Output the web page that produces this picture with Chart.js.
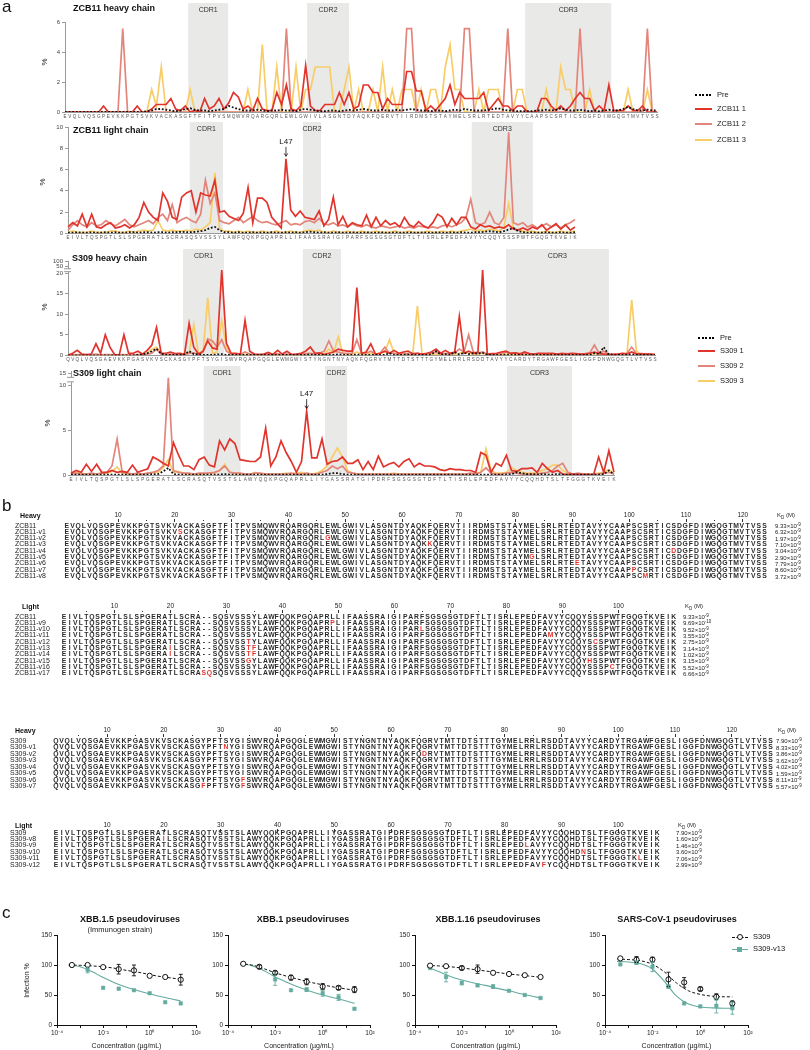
<!DOCTYPE html>
<html>
<head>
<meta charset="utf-8">
<script src="https://cdn.jsdelivr.net/npm/chart.js@4.4.1/dist/chart.umd.min.js"></script>
<style>
  body { margin: 0; background: #fff; }
  #page { position: relative; width: 810px; height: 1050px; overflow: hidden; font-family: "Liberation Sans", Arial, sans-serif; color: #111; will-change: transform; }
  #page canvas { position: absolute; }
  .t { position: absolute; white-space: nowrap; }
  .seq span { display: inline-block; text-align: center; }
  .sw { display: inline-block; vertical-align: middle; margin-right: 5px; }
</style>
</head>
<body>
<div id="page"></div>
<script>
// ---------- panel a : sequences on the x axis ----------
const zcbHeavySeq = "EVQLVQSGPEVKKPGTSVKVACKASGFTFITPVSMQWVRQARGQRLEWLGWIVLASGNTDYAQKFQERVTIIRDMSTSTAYMELSRLRTEDTAVYYCAAPSCSRTICSDGFDIWGQGTMVTVSS";
const zcbLightSeq = "EIVLTQSPGTLSLSPGERATLSCRASQSVSSSYLAWFQQKPGQAPRLLIFAASSRAIGIPARFSGSGSGTDFTLTISRLEPEDFAVYYCQQYSSSPWTFGQGTKVEIK";
const s309HeavySeq = "QVQLVQSGAEVKKPGASVKVSCKASGYPFTSYGISWVRQAPGQGLEWMGWISTYNGNTNYAQKFQGRVTMTTDTSTTTGYMELRRLRSDDTAVYYCARDYTRGAWFGESLIGGFDNWGQGTLVTVSS";
const s309LightSeq = "EIVLTQSPGTLSLSPGERATLSCRASQTVSSTSLAWYQQKPGQAPRLLIYGASSRATGIPDRFSGSGSGTDFTLTISRLEPEDFAVYYCQQHDTSLTFGGGTKVEIK";

// % of reads, one value per residue
const zcbHeavyPre = [0,0,0,0,0,0,0,0,0,0, 0,0,0,0,0,0,0,0.05,0.1,0.2, 0.2,0.15,0.1,0.05,0.1,0.2,0.25,0.15,0.1,0.1,
  0.05,0.1,0.15,0.2,0.4,0.3,0.2,0.1,0.1,0.1, 0.15,0.1,0.05,0.1,0.1,0.15,0.1,0.1,0.05,0.15, 0.2,0.15,0.1,0.05,0.05,0.1,0.1,0.05,0.1,0.15,
  0.1,0.15,0.2,0.15,0.1,0.1,0.15,0.1,0.1,0.15, 0.1,0.15,0.2,0.15,0.1,0.1,0.05,0.1,0.1,0.05, 0.1,0.15,0.1,0.2,0.15,0.1,0.1,0.1,0.15,0.2,
  0.25,0.15,0.1,0.1,0.05,0.05,0.05,0.05,0.1,0.1, 0.15,0.1,0.15,0.25,0.15,0.1,0.1,0.15,0.1,0.05, 0.1,0.05,0.1,0.15,0.1,0.1,0.2,0.35,0.2,0.1,
  0.1,0.15,0.1,0.1];
const zcbHeavy1 = [0,0,0,0,0,0,0,0,0.4,0, 0,0,0,0,0,0.4,0,0,0.2,0.5, 0.5,0.5,0.9,0.2,0.1,0.4,0,0.1,0,0.9,
  0.2,0.4,0.9,0.2,0.6,1.3,1.0,0.2,0.4,0.1, 0.9,0.2,0.1,0.1,1.3,0.5,1.8,0.2,0.1,0.4, 3.1,0.4,0.1,0.1,0.5,0.5,0.5,1.3,0.5,1.3,
  0.2,0.4,1.8,1.8,1.3,1.3,0.2,0.9,0.5,0.5, 0.5,2.7,2.7,1.4,1.4,0.1,0.4,0.1,0.5,0.9, 1.8,0.5,1.3,0.9,0.9,0.9,0.9,1.3,0.1,0.5,
  0.9,0.4,0.4,0.1,0.4,0.4,0,0,0,0.9, 0.9,0.4,0.1,0.4,0.1,0.4,0.9,1.3,0.9,0.9, 0.1,0.4,0.1,1.8,0.1,0.1,0.1,0.4,0.1,0.1,
  0.4,0,0,0];
const zcbHeavy2 = [0,0,0,0,0,0,0,0,0,0, 0,0,5.56,0,0,0,0,0,0,0, 0,0,0,0,0,0,0,0,0,0,
  0,0,0,0,0,0,0,0,0,0, 0,0,0,0,0,0,5.56,0,0,0, 0,0,0,0,0,0,0,0,0,0,
  0,0,0,0,0,0,0,0,0,0, 0,5.56,5.56,0,0,0,0,0,0,0, 0,0,0,5.56,5.56,0,0,0,0,0,
  0,0,5.56,0,0,0,0,0,0,0, 0,0,0,0,0,0,0,5.56,0,0, 0,0,0,0,0,0,0,0,0,0,
  0,5.56,0,0];
const zcbHeavy3 = [0,0,0,0,0,0,0,0,0,0, 0,0,0,0,0,0,0,0,1.5,0.4, 3,0,0,0,0,0,1.5,0,0,0,
  0,0,0,0,0,0,0,0,1.5,0, 0,4.5,0,0,3,0,0,0,3,0, 1.5,1.5,3,3,3,3,0,0,1.5,3,
  0,1.5,0,0,1.5,0,3,0,1.5,0, 1.5,1.5,1.5,0,1.5,0,1.5,1.5,0,3, 4.5,1.5,1.5,0,0,0,1.5,0,1.5,1.5,
  1.5,0,0,0,1.5,1.5,0,0,0,0, 1.5,0,0,3,1.5,1.5,0,0,0,1.5, 0,0,0,0,0,0,0,1.5,0,0,
  0,1.5,0,0];

const zcbLightPre = [0.05,0.05,0.1,0.05,0.05,0.1,0.05,0.05,0.1,0.05, 0.1,0.05,0.05,0.1,0.1,0.05,0.1,0.1,0.05,0.1,
  0.1,0.05,0.1,0.1,0.15,0.1,0.1,0.15,0.2,0.3, 0.5,0.6,0.3,0.1,0.1,0.05,0.1,0.05,0.05,0.1,
  0.05,0.1,0.05,0.1,0.05,0.05,0.1,0.05,0.1,0.05, 0.1,0.15,0.1,0.05,0.1,0.05,0.05,0.1,0.05,0.05,
  0.1,0.05,0.05,0.1,0.05,0.05,0.1,0.05,0.05,0.1, 0.05,0.05,0.1,0.05,0.05,0.1,0.05,0.05,0.1,0.05,
  0.05,0.1,0.05,0.1,0.05,0.05,0.1,0.1,0.15,0.2, 0.15,0.1,0.2,0.35,0.5,0.2,0.1,0.05,0.1,0.05,
  0.05,0.1,0.05,0.05,0.1,0.05,0.05,0.1];
const zcbLight1 = [0.6,1.0,0.7,1.8,0.6,1.8,0.6,0.5,0.8,1.0, 0.5,0.6,0.8,0.5,0.8,1.5,2.9,2.0,1.5,1.2,
  3.8,3.0,1.5,1.3,3.4,3.8,4.0,2.0,3.8,3.6, 3.5,5.0,2.0,2.1,1.6,1.4,1.2,1.9,4.3,1.0,
  3.3,3.3,2.9,1.5,1.0,0.5,7.0,2.2,1.6,2.1, 1.5,1.4,1.3,2.1,0.7,1.3,3.4,0.8,1.6,0.6,
  1.0,0.8,0.7,1.7,0.6,1.5,0.7,1.2,0.8,1.0, 0.6,1.5,0.8,0.6,1.1,0.7,0.5,1.0,1.8,1.5,
  0.6,1.4,0.8,1.5,1.5,0.6,0.4,0.8,0.6,0.7, 0.5,0.6,0.5,0.8,0.4,0.3,0.5,0.3,0.6,0.4,
  0.8,0.3,0.6,0.9,0.4,0.8,0.3,0.6];
const zcbLight2 = [0.3,0.8,1.2,0.8,0.6,1.0,0.7,0.8,1.2,0.9, 0.7,1.0,1.3,0.8,0.6,0.8,1.0,1.2,0.9,1.5,
  1.8,1.2,2.7,1.0,1.3,1.5,1.2,1.0,1.8,5.0, 2.8,3.8,1.2,1.0,0.9,1.2,1.5,1.0,1.3,1.6,
  1.2,1.0,1.1,0.9,0.8,1.0,1.2,0.8,0.9,0.8, 1.1,1.2,1.0,1.4,0.9,0.8,1.0,0.7,0.8,0.6,
  0.9,0.7,0.6,0.8,0.6,0.5,0.7,0.6,0.5,0.6, 0.7,0.5,0.6,0.5,0.7,0.6,0.5,0.6,0.5,0.7,
  0.8,0.6,0.8,1.0,1.5,3.2,1.0,0.8,1.0,2.0, 1.0,0.8,1.5,9.5,1.0,0.8,1.0,0.6,0.8,0.5,
  0.7,0.9,0.6,0.8,0.5,0.8,1.0,1.3];
const zcbLight3 = [0.1,0.2,0.1,0.1,0.1,0.2,0.1,0.1,0.1,0.2, 0.2,0.1,0.1,0.2,0.1,0.2,0.3,0.2,0.3,1.2,
  0.3,0.2,0.3,0.2,0.2,0.3,0.2,0.4,0.3,0.6, 1.0,5.7,0.4,0.2,0.2,0.1,0.2,0.1,0.2,0.1,
  0.1,0.2,0.1,0.1,0.2,0.1,0.1,0.2,0.1,0.1, 0.2,0.3,0.2,0.3,0.1,0.1,0.2,0.1,0.1,0.2,
  0.1,0.1,0.2,0.1,0.1,0.2,0.1,0.1,0.1,0.2, 0.1,0.1,0.2,0.1,0.1,0.1,0.2,0.1,0.1,0.2,
  0.1,0.2,0.1,0.2,0.3,0.4,0.2,0.3,0.2,0.4, 0.3,0.2,0.6,2.8,0.5,0.3,0.2,0.1,0.2,0.1,
  0.1,0.2,0.1,0.1,0.2,0.1,0.1,0.2];

const s309HeavyPre = [0,0,0,0,0,0,0,0,0,0, 0,0,0,0,0,0.1,0.2,0.5,1.0,1.6, 0.4,0.1,0.1,0.1,0.1,0.2,1.0,0.3,0.2,0.1,
  0.1,0.1,0.2,0.3,0.1,0.1,0.1,0.1,0.1,0.1, 0.1,0.1,0.1,0.1,0.1,0.1,0.1,0.1,0.1,0.1, 0.1,0.1,0.2,0.1,0.1,0.1,0.1,0.1,0.2,0.1,
  0.1,0.1,0.2,0.1,0.1,0.1,0.1,0.1,0.1,0.5, 0.1,0.1,0.1,0.2,0.1,0.1,0.1,0.1,0.2,1.0, 0.2,0.3,0.1,0.8,0.2,0.6,0.3,0.5,0.4,0.6,
  0.1,0.1,0.1,0.1,0.2,0.1,0.1,0.1,0.1,0.1, 0.1,0.1,0.1,0.1,0.1,0.1,0.1,0.1,0.1,0.1, 0.1,0.1,0.1,0.5,0.3,2.0,0.3,0.1,0.1,0.1,
  0.1,0.2,0.1,0.1,0.1,0.1,0.1];
const s309Heavy1 = [0,0.5,1.2,0.3,0.2,0.3,2.8,0.5,5.0,2.0, 0.2,0.1,5.0,0.5,0.5,1.0,0.3,1.2,2.5,6.8, 0.5,0.5,0.8,0.4,0.5,0.2,7.8,2.0,0.3,1.0,
  3.5,1.8,1.5,20.8,3.0,0.5,0.5,0.3,8.5,1.0, 0.3,0.2,0.3,0.7,0.2,1.2,0.3,1.0,0.2,0.3, 0.5,1.0,2.0,0.5,0.6,0.2,0.5,0.8,1.5,1.2,
  1.0,1.0,16.5,0.5,0.8,2.8,0.3,0.5,1.0,0.5, 1.2,0.5,0.8,1.0,0.4,0.5,0.3,0.5,0.8,1.5, 0.5,1.2,0.5,0.8,9.5,0.5,1.0,0.5,0.8,20.8,
  0.3,0.4,0.5,0.8,1.0,0.5,0.6,0.3,0.8,0.4, 0.3,0.5,0.4,0.3,0.5,0.3,0.4,0.3,0.5,0.4, 0.3,0.3,0.5,0.8,0.4,0.3,0.2,0.2,0.3,0.5,
  0.3,0.8,0.3,0.4,0.3,0.3,0.2];
const s309Heavy2 = [0,0.1,0.2,0.1,0.1,0.1,0.3,0.1,0.2,0.2, 0.1,0.1,0.2,0.1,0.1,0.2,0.1,0.3,0.5,1.5, 0.3,0.2,0.3,0.2,0.2,0.1,0.5,0.6,0.2,0.8,
  4.0,3.5,2.0,3.8,1.0,0.3,0.3,0.2,0.8,0.3, 0.2,0.2,0.2,0.3,0.2,0.4,0.2,0.3,0.2,0.2, 0.3,0.4,0.5,0.3,0.5,1.0,3.5,1.0,0.8,0.5,
  0.5,0.5,3.8,0.5,0.5,1.0,0.3,0.5,2.0,0.5, 0.5,0.3,0.5,0.3,0.2,0.5,0.3,0.3,0.5,0.8, 0.3,0.5,0.3,0.5,1.5,0.8,5.0,0.8,0.5,0.8,
  0.3,0.3,0.3,0.5,0.8,0.5,0.6,0.4,0.5,0.4, 0.3,0.4,0.5,0.6,0.4,0.3,0.5,0.4,0.3,0.3, 0.3,0.4,0.6,2.5,0.5,1.0,0.3,0.3,0.3,0.4,
  0.5,2.0,0.4,0.3,0.3,0.3,0.2];
const s309Heavy3 = [0,0,0,0,0,0,0,0,0,0, 0,0,0,0,0,0.2,0.3,0.5,1.5,2.0, 0.3,0.1,0.3,0.2,0.5,0.3,0.5,7.5,0.5,0.8,
  14.0,0.5,0.8,8.5,2.0,0.2,0.1,0.1,0.2,0.1, 0,0,0,0.1,0,0.1,0,0.1,0,0, 0.1,0.2,0.3,0.5,0.3,0.3,1.5,0.5,4.5,0.5,
  0.2,0.3,0.8,0.3,0.2,0.5,0.2,0.5,0.8,3.8, 0.5,0.2,0.3,0.2,0.3,12.0,0.3,0.2,0.2,0.3, 0.2,0.3,0.2,0.3,0.5,0.8,0.5,0.3,0.3,0.5,
  0.2,0.2,0.2,0.2,0.3,0.2,0.1,0.1,0.1,0.1, 0.1,0.1,0.1,0.2,0.1,0.1,0.1,0.1,0.2,0.1, 0.1,0.1,0.2,0.5,0.2,0.3,0.2,0.1,0.1,0.2,
  0.5,13.5,1.0,0.2,0.1,0.1,0.1];

const s309LightPre = [0.05,0.05,0.05,0.05,0.05,0.05,0.05,0.05,0.05,0.05, 0.05,0.05,0.05,0.05,0.05,0.05,0.1,0.1,0.4,0.8,
  0.1,0.05,0.05,0.05,0.05,0.05,0.05,0.05,0.05,0.05, 0.1,0.05,0.05,0.05,0.05,0.05,0.05,0.05,0.05,0.05,
  0.05,0.05,0.05,0.05,0.05,0.05,0.05,0.05,0.05,0.05, 0.1,0.2,0.2,0.1,0.05,0.05,0.05,0.05,0.05,0.05,
  0.05,0.05,0.05,0.05,0.05,0.05,0.05,0.05,0.05,0.05, 0.05,0.05,0.05,0.05,0.05,0.05,0.05,0.05,0.05,0.05,
  0.05,0.05,0.05,0.05,0.05,0.05,0.1,0.3,0.2,0.1, 0.1,0.05,0.1,0.05,0.05,0.1,0.05,0.05,0.05,0.05,
  0.05,0.05,0.05,0.05,0.1,0.5,0.1];
const s309Light1 = [0.2,0.5,0.3,1.2,0.4,1.2,0.3,0.3,0.5,0.3, 0.4,0.3,1.1,0.3,0.5,0.7,2.0,1.7,1.3,1.0,
  3.6,2.2,1.0,1.0,0.6,1.7,2.0,1.1,0.9,3.8, 2.8,4.0,3.5,1.7,1.6,1.5,1.5,2.0,5.2,1.0,
  2.0,3.8,2.5,1.5,0.3,1.5,7.1,1.9,1.9,4.0, 1.2,1.5,1.6,2.0,1.3,1.3,1.7,0.6,1.5,0.6,
  2.1,0.9,1.2,1.4,0.9,1.5,1.8,0.9,1.3,1.0, 1.0,0.9,0.6,0.5,0.7,0.6,0.6,0.5,0.5,0.3,
  2.5,2.2,0.3,1.3,1.0,2.2,0.5,0.4,0.7,0.7, 0.8,0.3,1.3,0.7,0.3,0.5,0.1,0.05,0.1,0.05,
  0.05,0.05,0,2.0,0.3,2.7,0.3];
const s309Light2 = [0.1,0.2,0.1,0.1,0.2,0.1,0.2,0.3,1.0,4.0, 0.3,0.2,0.1,0.2,0.1,0.2,0.3,0.5,1.0,10.8,
  0.5,0.3,0.2,0.2,0.1,0.2,0.2,0.2,0.3,0.5, 1.0,0.3,0.2,0.2,0.1,0.1,0.2,0.2,0.1,0.1,
  0.1,0.1,0.1,0.2,0.1,0.1,0.2,0.1,0.1,0.3, 0.5,1.0,0.7,1.0,0.3,0.2,0.1,0.1,0.1,0.1,
  0.1,0.1,0.1,0.1,0.1,0.1,0.1,0.1,0.1,0.1, 0.1,0.1,0.1,0.1,0.1,0.1,0.1,0.1,0.2,0.1,
  0.3,0.8,0.2,0.1,0.1,0.2,0.3,0.2,0.1,0.1, 0.1,0.1,0.2,0.3,0.5,1.0,1.3,0.3,0.1,0.2,
  0.1,0.1,0.1,0.1,0.2,0.3,0.1];
const s309Light3 = [0.1,0.3,0.2,0.1,0.1,0.1,0.2,0.2,0.4,0.9, 0.2,0.1,0.1,0.1,0.1,0.2,0.3,0.3,0.8,1.7,
  0.3,0.4,0.2,0.1,0.1,0.1,0.1,0.2,0.2,0.5, 1.2,0.3,0.2,0.1,0.1,0.1,0.3,0.1,0.1,0.1,
  0.1,0.1,0.2,0.1,0.2,0.3,0.1,0.1,0.2,0.5, 1.0,2.0,3.0,2.0,0.5,0.2,0.1,0.1,0.1,0.1,
  0.1,0.1,0.1,0.2,0.1,0.1,0.1,0.1,0.1,0.1, 0.1,0.1,0.1,0.1,0.1,0.1,0.1,0.1,0.1,0.2,
  0.3,2.9,0.5,0.2,0.2,0.3,0.8,0.5,0.3,0.2, 0.2,0.3,0.5,0.7,1.1,1.1,0.5,0.2,0.1,0.1,
  0.1,0.1,0.1,0.2,0.3,0.6,0.1];

// CDR extents in residue units
const zcbHeavyCdr = [[26.6, 34.9], [51.3, 60.0], [96.6, 114.5]];
const zcbLightCdr = [[26.7, 33.7], [50.6, 54.4], [86.2, 99.1]];
const s309HeavyCdr = [[25.7, 34.5], [51.4, 59.6], [95.0, 117.1]];
const s309LightCdr = [[26.9, 34.1], [50.6, 54.9], [86.1, 98.8]];

// y ticks (the S309 axes are broken)
const zcbHeavyTicks = [0, 2, 4, 6], zcbHeavyTickLabels = ["0", "2", "4", "6"];
const zcbLightTicks = [0, 2, 4, 6, 8, 10], zcbLightTickLabels = ["0", "2", "4", "6", "8", "10"];
const s309HeavyTicks = [0, 5, 10, 15, 20, 21.7, 22.9], s309HeavyTickLabels = ["0", "5", "10", "15", "20", "50", "100"];
const s309LightTicks = [0, 5, 10, 11.3], s309LightTickLabels = ["0", "5", "10", "15"];

// ---------- panel b : alignments ----------
const zcbHeavyNames = ["ZCB11", "ZCB11-v1", "ZCB11-v2", "ZCB11-v3", "ZCB11-v4", "ZCB11-v5", "ZCB11-v6", "ZCB11-v7", "ZCB11-v8"];
const zcbHeavySeqs = [
  "EVQLVQSGPEVKKPGTSVKVACKASGFTFITPVSMQWVRQARGQRLEWLGWIVLASGNTDYAQKFQERVTIIRDMSTSTAYMELSRLRTEDTAVYYCAAPSCSRTICSDGFDIWGQGTMVTVSS",
  "EVQLVQSGPEVKKPGTSVKVSCKASGFTFITPVSMQWVRQARGQRLEWLGWIVLASGNTDYAQKFQERVTIIRDMSTSTAYMELSRLRTEDTAVYYCAAPSCSRTICSDGFDIWGQGTMVTVSS",
  "EVQLVQSGPEVKKPGTSVKVACKASGFTFITPVSMQWVRQARGQRLGWLGWIVLASGNTDYAQKFQERVTIIRDMSTSTAYMELSRLRTEDTAVYYCAAPSCSRTICSDGFDIWGQGTMVTVSS",
  "EVQLVQSGPEVKKPGTSVKVACKASGFTFITPVSMQWVRQARGQRLEWLGWIVLASGNTDYAQKKQERVTIIRDMSTSTAYMELSRLRTEDTAVYYCAAPSCSRTICSDGFDIWGQGTMVTVSS",
  "EVQLVQSGPEVKKPGTSVKVACKASGFTFITPVSMQWVRQARGQRLEWLGWIVLASGNTDYAQKFQERVTIIRDMSTSTAYMELSRLRTEDTAVYYCAAPSCSRTICDDGFDIWGQGTMVTVSS",
  "EVQLVQSGPEVKKPGTSVKVACKASGFTFITPVSMQWVRQARGQRLEWLGWIVLASGNTDYAQKFQERVTIIRDMSTSTAYMGLSRLRTEDTAVYYCAAPSCSRTICSDGFDIWGQGTMVTVSS",
  "EVQLVQSGPEVKKPGTSVKVACKASGFTFITPVSMQWVRQARGQRLEWLGWIVLASGNTDYAQKFQERVTIIRDMSTSTAYMELSRLRTEETAVYYCAAPSCSRTICSDGFDIWGQGTMVTVSS",
  "EVQLVQSGPEVKKPGTSVKVACKASGFTFITPVSMQWVRQARGQRLEWLGWIVLASGNTDYAQKFQERVTIIRDMSTSTAYMELSRLRTEDTAVYYCAAPPCSRTICSDGFDIWGQGTMVTVSS",
  "EVQLVQSGPEVKKPGTSVKVACKASGFTFITPVSMQWVRQARGQRLEWLGWIVLASGNTDYAQKFQERVTIIRDMSTSTAYMELSRLRTEDTAVYYCAAPSCMRTICSDGFDIWGQGTMVTVSS"];
const zcbHeavyKd = [9.33e-9, 6.32e-9, 1.97e-9, 7.10e-9, 3.04e-9, 2.90e-9, 7.79e-9, 8.60e-9, 3.72e-9];

const zcbLightNames = ["ZCB11", "ZCB11-v9", "ZCB11-v10", "ZCB11-v11", "ZCB11-v12", "ZCB11-v13", "ZCB11-v14", "ZCB11-v15", "ZCB11-v16", "ZCB11-v17"];
const zcbLightSeqs = [
  "EIVLTQSPGTLSLSPGERATLSCRA--SQSVSSSYLAWFQQKPGQAPRLLIFAASSRAIGIPARFSGSGSGTDFTLTISRLEPEDFAVYYCQQYSSSPWTFGQGTKVEIK",
  "EIVLTQSPGTLSLSPGERATLSCRA--SQSVSSSYLAWFQQKPGQAPRPLIFAASSRAIGIPARFSGSGSGTDFTLTISRLEPEDFAVYYCQQYSSSPWTFGQGTKVEIK",
  "EIVLTQSPGTLSLSPGERATLSCRA--SQSVSSSYLAWFQQKPGQAPRLLIFAASSRAIGIPARLSGSGSGTDFTLTISRLEPEDFAVYYCQQYSSSPWTFGQGTKVEIK",
  "EIVLTQSPGTLSLSPGERATLSCRA--SQSVSSSYLAWFQQKPGQAPRLLIFAASSRAIGIPARFSGSGSGTDFTLTISRLEPEDFAMYYCQQYSSSPWTFGQGTKVEIK",
  "EIVLTQSPGTLSLSPGERATLSCRA--SQSVSSTYLAWFQQKPGQAPRLLIFAASSRAIGIPARFSGSGSGTDFTLTISRLEPEDFAVYYCQQYSCSPWTFGQGTKVEIK",
  "EIVLTQSPGTLSLSPGERAILSCRA--SQSVSSTFLAWFQQKPGQAPRLLIFAASSRAIGIPARFSGSGSGTDFTLTISRLEPEDFAVYYCQQYSSSPWTFGQGTKVEIK",
  "EIVLTQSPGTLSLSPGERAILSCRA--SQSVSSTFLAWFQQKPGQAPRLLIFAASSRAIGIPARFSGSGSGTDFTLTISRLEPEDFAVYYCQQYSSSPWTFGQGTKVEIK",
  "EIVLTQSPGTLSLSPGERATLSCRA--SQSVSSGYLAWFQQKPGQAPRLLIFAASSRAIGIPARFSGSGSGTDFTLTISRLEPEDFAVYYCQQYHSSPWTFGQGTKVEIK",
  "EIVLTQSPGTLSLSPGERATLSCRA--SQSVSSSYLAWFQQKPGQAPRLLIFAASSRAIGIPARFSGSGSGTDFTLTISRLEPEDFAVYYCQQYSSSPCTFGQGTKVEIK",
  "EIVLTQSPGTLSLSPGERATLSCRASQSQSVSSSYLAWFQQKPGQAPRLLIFAASSRAIGIPARFSGSGSGTDFTLTISRLEPEDFAVYYCQQYSSSPWTFGQGTKVEIK"];
const zcbLightKd = [9.33e-9, 9.69e-10, 9.52e-9, 3.55e-9, 2.75e-9, 3.14e-9, 1.02e-9, 3.15e-9, 5.52e-9, 6.66e-9];

const s309HeavyNames = ["S309", "S309-v1", "S309-v2", "S309-v3", "S309-v4", "S309-v5", "S309-v6", "S309-v7"];
const s309HeavySeqs = [
  "QVQLVQSGAEVKKPGASVKVSCKASGYPFTSYGISWVRQAPGQGLEWMGWISTYNGNTNYAQKFQGRVTMTTDTSTTTGYMELRRLRSDDTAVYYCARDYTRGAWFGESLIGGFDNWGQGTLVTVSS",
  "QVQLVQSGAEVKKPGASVKVSCKASGYPFTNYGISWVRQAPGQGLEWMGWISTYNGNTNYAQKFQGRVTMTTDTSTTTGYMELRRLRSDDTAVYYCARDYTRGAWFGESLIGGFDNWGQGTLVTVSS",
  "QVQLVQSGAEVKKPGASVKVSCKASGYPFTSYGISWVRQAPGQGLEWMGWISTYNGNTNYAQKFQDRVTMTTDTSTTTGYMELRRLRSDDTAVYYCARDYTRGAWFGESLIGGFDNWGQGTLVTVSS",
  "QVQLVQSGAEVKKPGASVKVSCKASGYPFTSYGISWVRQAPGQGLEWMGWISTYNGNTNYAQKFQGRVTMTTDTSTTTGYMELRRLRSDDTAVYYCARDYTRGAWFGESLIGGFDNWGQGTLVTVSS",
  "QVQLVQSGAEVKKPGASVKVSCKASGYPFTSYGISWVRQAPGQGLEWMGWISTYNGNTNYAQKFQGRVTMTTDTSTTTGYMELRRLRSDDTAVYYCARDYTRGAWFGESLIGGFDNWGQGTLVTVSS",
  "QVQLVQSGAEVKKPGASVKVSCKASGYPFTSYGISWVRQAPGQGLEWMGWISTYNGNTNYAQKFQGRVTMTTDTSTTTGYMELRRLRSDDTAVYYCARDYTRGAWFGESLIGGFDNWGQGTLVTVSS",
  "QVQLVQSGAEVKKPGASVKVSCKASGYPFTSYGFSWVRQAPGQGLEWMGWISTYNGNTNYAQKFQGRVTMTTDTSTTTGYMELRRLRSDDTAVYYCARDYTRGAWFGESLIGGFDNWGQGTLVTVSS",
  "QVQLVQSGAEVKKPGASVKVSCKASGFPFTSYGFSWVRQAPGQGLEWMGWISTYNGNTNYAQKFQGRVTMTTDTSTTTGYMELRRLRSDDTAVYYCARDYTRGAWFGESLIGGFDNWGQGTLVTVSS"];
const s309HeavyKd = [7.90e-9, 8.33e-9, 3.86e-9, 3.62e-9, 4.02e-9, 1.59e-9, 8.11e-9, 5.57e-9];

const s309LightNames = ["S309", "S309-v8", "S309-v9", "S309-v10", "S309-v11", "S309-v12"];
const s309LightSeqs = [
  "EIVLTQSPGTLSLSPGERATLSCRASQTVSSTSLAWYQQKPGQAPRLLIYGASSRATGIPDRFSGSGSGTDFTLTISRLEPEDFAVYYCQQHDTSLTFGGGTKVEIK",
  "EIVLTQSPGTLSLSPGERAILSCRASQTVSSTSLAWYQQKPGQAPRLLIYGASSRATGIPDRFSGSGSGTDFTLTISRLEPEDFAVYYCQQHDTSLTFGGGTKVEIK",
  "EIVLTQSPGTLSLSPGERATLSCRASQTVSSTSLAWYQQKPGQAPRLLIYGASSRATGIPDRFSGSGSGTDFTLTISRLEPEDLAVYYCQQHDTSLTFGGGTKVEIK",
  "EIVLTQSPGTLSLSPGERATLSCRASQTVSSTSLAWYQQKPGQAPRLLIYGASSRATGIPDRFSGSGSGTDFTLTISRLEPEDFAVYYCQQHDNSLTFGGGTKVEIK",
  "EIVLTQSPGTLSLSPGERATLSCRASQTVSSTSLAWYQQKPGQAPRLLIYGASSRATGIPDRFSGSGSGTDFTLTISRLEPEDFAVYYCQQHDTSLTFGGGTKLEIK",
  "EIVLTQSPGTLSLSPGERATLSCRASQTVSSTSLAWYQQKPGQAPRLLIYGASSRATGIPDRFSGSGSGTDFTLTISRLEPEDFAVFYCQQHDTSLTFGGGTKVEIK"];
const s309LightKd = [7.90e-9, 1.60e-9, 1.46e-9, 3.60e-9, 7.06e-9, 2.99e-9];

// ---------- panel c : neutralisation ----------
const conc = [0.00044, 0.0021, 0.0098, 0.046, 0.21, 1.0, 4.7, 22];
const fitConc = [0.00032, 0.001, 0.0032, 0.01, 0.032, 0.1, 0.32, 1, 3.2, 10, 22];
const doseTicks = [1e-4, 1e-3, 1e-2, 1e-1, 1, 10, 100];
const doseTickLabels = ["10\u207B\u2074", "", "10\u207B\u00B2", "", "10\u2070", "", "10\u00B2"];

const xbb15S309 = [100, 100, 96.5, 93, 91, 82, 80, 75.5], xbb15S309Err = [1, 1, 2, 8, 9, 2, 1, 9];
const xbb15V13 = [99, 92, 62, 60.5, 58, 53, 38, 36], xbb15V13Err = [1, 5, 2, 2, 2, 2, 2, 2];
const xbb15S309Fit = [100, 99.5, 98.5, 97, 94.5, 91, 88, 84, 80.5, 78, 76];
const xbb15V13Fit = [100, 97, 89, 79, 70, 63, 57, 52, 47, 43, 40];

const xbb1S309 = [102, 97, 87, 79, 72, 64, 62, 59], xbb1S309Err = [2, 3, 3, 4, 5, 5, 3, 5];
const xbb1V13 = [102, 97, 76, 58, 59, 53, 46, 27], xbb1V13Err = [2, 2, 10, 2, 3, 5, 5, 2];
const xbb1S309Fit = [102, 100, 94, 87, 81, 76, 71, 67, 63, 60, 58];
const xbb1V13Fit = [102, 99, 91, 80, 71, 63, 56, 50, 45, 40, 36];

const xbb116S309 = [99, 98, 95, 93, 87, 85, 83, 80], xbb116S309Err = [2, 1, 3, 7, 2, 1, 2, 2];
const xbb116V13 = [95, 80, 70, 66, 64, 57, 50, 45], xbb116V13Err = [2, 8, 3, 2, 3, 2, 2, 2];
const xbb116S309Fit = [99, 98.5, 97, 95, 92.5, 90, 87.5, 85, 83, 81, 79.5];
const xbb116V13Fit = [97, 89, 81, 75, 70, 66, 61, 57, 52, 48, 45];

const sarsS309 = [111, 109, 109, 76, 71, 60, 47, 36], sarsS309Err = [2, 5, 4, 12, 8, 3, 5, 4];
const sarsV13 = [101, 104, 97, 64, 36, 31, 32, 28], sarsV13Err = [2, 3, 8, 3, 2, 2, 12, 10];
const sarsS309Fit = [110, 109, 107, 101, 88, 70, 57, 51, 48, 47, 47];
const sarsV13Fit = [106, 105, 102, 93, 72, 48, 35, 30, 28.5, 28, 28];

// ---------------------------------------------------------------
const FONT = "'Liberation Sans', Arial, sans-serif";
const page = document.getElementById("page");
const colPre = "#111", colRed = "#e0342c", colSalmon = "#e3857b", colYellow = "#f8cd68";
const teal = "#64ab9f";

function txt(html, x, y, size, opts) {
  opts = opts || {};
  const d = document.createElement("div");
  d.className = "t";
  d.innerHTML = html;
  d.style.fontSize = size + "px";
  d.style.lineHeight = size + "px";
  d.style.top = (y - size / 2) + "px";
  if (opts.bold) d.style.fontWeight = "bold";
  if (opts.color) d.style.color = opts.color;
  if (opts.align === "center") { d.style.left = x + "px"; d.style.transform = "translateX(-50%)"; }
  else if (opts.align === "right") { d.style.right = (810 - x) + "px"; }
  else d.style.left = x + "px";
  if (opts.rotate) { d.style.left = x + "px"; d.style.transform = "translate(-50%,0) rotate(-90deg)"; }
  page.appendChild(d);
  return d;
}

// grey CDR boxes behind the traces
const cdrPlugin = {
  id: "cdr",
  beforeDraw(chart, args, opts) {
    const { ctx, chartArea, scales: { x } } = chart;
    ctx.save();
    opts.boxes.forEach(([a, b], k) => {
      const x0 = x.getPixelForValue(a - 1), x1 = x.getPixelForValue(b - 1);
      ctx.fillStyle = "#e9e9e8";
      ctx.fillRect(x0, opts.top, x1 - x0, chartArea.bottom - opts.top);
      ctx.fillStyle = "#333";
      ctx.font = "7px " + FONT;
      ctx.textAlign = "center";
      ctx.textBaseline = "middle";
      ctx.fillText("CDR" + (k + 1), (x0 + x1) / 2, opts.top + 7);
    });
    ctx.restore();
  }
};

// axis break marks
const breakPlugin = {
  id: "brk",
  afterDraw(chart, args, opts) {
    if (!opts.at) return;
    const { ctx, scales: { y } } = chart;
    const x0 = y.right;
    const ya = y.getPixelForValue(opts.at[0]), yb = y.getPixelForValue(opts.at[1]);
    ctx.save();
    ctx.fillStyle = "#fff";
    ctx.fillRect(x0 - 2, yb, 4, ya - yb);
    ctx.strokeStyle = "#999";
    ctx.lineWidth = 1;
    ctx.beginPath();
    ctx.moveTo(x0 - 4, ya); ctx.lineTo(x0 + 3, ya);
    ctx.moveTo(x0 - 4, yb); ctx.lineTo(x0 + 3, yb);
    ctx.stroke();
    ctx.restore();
  }
};

// "L47" arrow labels
const notePlugin = {
  id: "note",
  afterDatasetsDraw(chart, args, opts) {
    if (!opts.items) return;
    const { ctx, scales: { x, y } } = chart;
    ctx.save();
    opts.items.forEach(n => {
      const px = x.getPixelForValue(n.index), py = y.getPixelForValue(n.value);
      ctx.fillStyle = "#111";
      ctx.strokeStyle = "#111";
      ctx.font = "8px " + FONT;
      ctx.textAlign = "center";
      ctx.textBaseline = "middle";
      ctx.fillText(n.text, px, py - 17);
      ctx.lineWidth = 0.8;
      ctx.beginPath();
      ctx.moveTo(px, py - 12); ctx.lineTo(px, py - 3);
      ctx.stroke();
      ctx.beginPath();
      ctx.moveTo(px - 1.8, py - 5.5); ctx.lineTo(px, py - 2.5); ctx.lineTo(px + 1.8, py - 5.5);
      ctx.stroke();
    });
    ctx.restore();
  }
};

function seqChart(o) {
  const cv = document.createElement("canvas");
  cv.width = o.w; cv.height = o.h;
  cv.style.left = "0px"; cv.style.top = o.top + "px";
  page.appendChild(cv);
  const lineDs = (label, data, color, dash) => ({
    label, data, borderColor: color, borderWidth: dash ? 1.8 : 1.7, borderDash: dash || [], pointRadius: 0, tension: 0
  });
  new Chart(cv, {
    type: "line",
    data: {
      labels: o.seq.split(""),
      datasets: [
        lineDs("Pre", o.series[0], colPre, [1.8, 1.8]),
        lineDs(o.name + " 1", o.series[1], colRed),
        lineDs(o.name + " 2", o.series[2], colSalmon),
        lineDs(o.name + " 3", o.series[3], colYellow)
      ]
    },
    options: {
      responsive: false,
      animation: false,
      layout: { padding: { top: o.padTop, right: o.padRight, left: 0, bottom: 0 } },
      plugins: {
        legend: { display: false },
        tooltip: { enabled: false },
        cdr: { boxes: o.cdr, top: o.boxTop },
        brk: { at: o.brk },
        note: { items: o.notes }
      },
      scales: {
        x: {
          offset: false,
          grid: { display: false, drawTicks: false, tickLength: 0 },
          border: { color: "#9a9a9a", width: 1 },
          ticks: { autoSkip: false, maxRotation: 0, minRotation: 0, padding: 1.5, color: "#555", font: { size: 4.6, family: FONT } },
          afterFit(s) { s.height = o.xAxisH; }
        },
        y: {
          min: 0, max: o.yMax,
          border: { color: "#9a9a9a", width: 1 },
          grid: { drawOnChartArea: false, tickLength: 3, color: "#9a9a9a" },
          ticks: { autoSkip: false, padding: 2, color: "#444", font: { size: 6, family: FONT }, callback: (v, i) => o.yLabels[i] },
          afterBuildTicks(s) { s.ticks = o.yTicks.map(v => ({ value: v })); },
          afterFit(s) { s.width = o.yAxisW; }
        }
      }
    },
    plugins: [cdrPlugin, breakPlugin, notePlugin]
  });
}

// ---------- panel a ----------
txt("a", 2, 6, 17);
seqChart({ name: "ZCB11", top: 0, w: 670, h: 125, yAxisW: 65, padTop: 22, padRight: 13, xAxisH: 13,
  seq: zcbHeavySeq, series: [zcbHeavyPre, zcbHeavy1, zcbHeavy2, zcbHeavy3],
  yMax: 6, yTicks: zcbHeavyTicks, yLabels: zcbHeavyTickLabels, cdr: zcbHeavyCdr, boxTop: 3 });
seqChart({ name: "ZCB11", top: 120, w: 670, h: 125, yAxisW: 68, padTop: 7, padRight: 95, xAxisH: 11.7,
  seq: zcbLightSeq, series: [zcbLightPre, zcbLight1, zcbLight2, zcbLight3],
  yMax: 10, yTicks: zcbLightTicks, yLabels: zcbLightTickLabels, cdr: zcbLightCdr, boxTop: 2,
  notes: [{ index: 46, value: zcbLight1[46], text: "L47" }] });
seqChart({ name: "S309", top: 245, w: 670, h: 120, yAxisW: 68, padTop: 16, padRight: 15, xAxisH: 9.7,
  seq: s309HeavySeq, series: [s309HeavyPre, s309Heavy1, s309Heavy2, s309Heavy3],
  yMax: 23, yTicks: s309HeavyTicks, yLabels: s309HeavyTickLabels, cdr: s309HeavyCdr, boxTop: 4, brk: [20.4, 21.1] });
seqChart({ name: "S309", top: 363, w: 670, h: 122, yAxisW: 71, padTop: 8.5, padRight: 56, xAxisH: 10,
  seq: s309LightSeq, series: [s309LightPre, s309Light1, s309Light2, s309Light3],
  yMax: 11.5, yTicks: s309LightTicks, yLabels: s309LightTickLabels, cdr: s309LightCdr, boxTop: 3, brk: [10.35, 10.85],
  notes: [{ index: 46, value: s309Light1[46], text: "L47" }] });

txt("ZCB11 heavy chain", 73, 8, 9, { bold: true });
txt("ZCB11 light chain", 73, 130, 9, { bold: true });
txt("S309 heavy chain", 72, 258, 9, { bold: true });
txt("S309 light chain", 73, 373, 9, { bold: true });
[[45, 62], [43, 182], [45, 307], [48, 423]].forEach(([x, y]) => txt("%", x, y, 8, { rotate: true }));

function legendItem(x, y, label, style) {
  const d = txt('<span class="sw" style="width:17px;height:2px;' + style + '"></span>' + label, x, y, 7.5);
  d.style.color = "#222";
}
const dotted = "background:repeating-linear-gradient(90deg,#000 0 2px,transparent 2px 3.6px);";
legendItem(695, 95, "Pre", dotted);
legendItem(695, 108.5, "ZCB11 1", "background:" + colRed);
legendItem(695, 124, "ZCB11 2", "background:" + colSalmon);
legendItem(695, 140, "ZCB11 3", "background:" + colYellow);
legendItem(698, 338, "Pre", dotted);
legendItem(698, 350.5, "S309 1", "background:" + colRed);
legendItem(698, 365.5, "S309 2", "background:" + colSalmon);
legendItem(698, 380.5, "S309 3", "background:" + colYellow);

// ---------- panel b ----------
txt("b", 2, 505, 17);
function kdHtml(v) {
  const [m, e] = v.toExponential(2).split("e");
  return m + "\u00D710<sup style='font-size:4.5px;vertical-align:2px'>" + (+e < 0 ? "-" : "") + Math.abs(+e) + "</sup>";
}
function alignBlock(b) {
  txt(b.head, b.headX, b.y, 7, { bold: true });
  const cols = b.seqs[0].length;
  for (let n = 5; n <= cols - 2; n += 5) {
    const cx = b.col1 + (n - 1) * b.pitch;
    if (n % 10 === 0) {
      txt(String(n), cx, b.y, 6.5, { align: "center", color: "#222" });
      const tk = document.createElement("div");
      tk.style.cssText = "position:absolute;width:0.8px;height:2.5px;background:#333;left:" + (cx - 0.4) + "px;top:" + (b.y + 4) + "px";
      page.appendChild(tk);
    } else {
      const dt = document.createElement("div");
      dt.style.cssText = "position:absolute;width:1px;height:1px;background:#333;left:" + (cx - 0.5) + "px;top:" + (b.y + 4.5) + "px";
      page.appendChild(dt);
    }
  }
  txt("K<sub style='font-size:4.5px'>D</sub> (M)", b.kdX + 2, b.y, 6, { color: "#222" });
  const parent = b.seqs[0];
  b.names.forEach((name, r) => {
    const y = b.rowY + r * b.dy;
    txt(name, b.nameX, y, 7, { color: "#222" });
    const row = document.createElement("div");
    row.className = "t seq";
    row.style.cssText += "left:" + (b.col1 - b.pitch / 2) + "px;top:" + (y - 3.5) + "px;font-size:6.8px;line-height:7px;font-weight:bold;color:#2a2a2a;";
    let h = "";
    const s = b.seqs[r];
    for (let k = 0; k < s.length; k++) {
      const red = r > 0 && s[k] !== parent[k];
      h += "<span style='width:" + b.pitch + "px" + (red ? ";color:#e8322c" : "") + "'>" + s[k] + "</span>";
    }
    row.innerHTML = h;
    page.appendChild(row);
    txt(kdHtml(b.kd[r]), b.kdX, y, 6, { color: "#222" });
  });
}
alignBlock({ head: "Heavy", headX: 20, y: 515, col1: 66.9, pitch: 5.68, rowY: 525, dy: 6.33, nameX: 15, kdX: 775,
  names: zcbHeavyNames, seqs: zcbHeavySeqs, kd: zcbHeavyKd });
alignBlock({ head: "Light", headX: 22, y: 606, col1: 64, pitch: 5.6, rowY: 616, dy: 6.33, nameX: 15, kdX: 683,
  names: zcbLightNames, seqs: zcbLightSeqs, kd: zcbLightKd });
alignBlock({ head: "Heavy", headX: 15, y: 730, col1: 55.9, pitch: 5.68, rowY: 740, dy: 6.5, nameX: 10, kdX: 776,
  names: s309HeavyNames, seqs: s309HeavySeqs, kd: s309HeavyKd });
alignBlock({ head: "Light", headX: 15, y: 825, col1: 56, pitch: 5.68, rowY: 832, dy: 6.4, nameX: 10, kdX: 676,
  names: s309LightNames, seqs: s309LightSeqs, kd: s309LightKd });

// ---------- panel c ----------
txt("c", 2, 912, 17);
const errPlugin = {
  id: "err",
  afterDatasetsDraw(chart) {
    const { ctx, scales: { x, y } } = chart;
    ctx.save();
    chart.data.datasets.forEach(ds => {
      if (!ds.errs) return;
      ctx.strokeStyle = ds.errColor;
      ctx.lineWidth = 0.9;
      ds.data.forEach((p, i) => {
        const e = ds.errs[i];
        if (e < 2.5) return;
        const px = x.getPixelForValue(p.x);
        const y0 = y.getPixelForValue(p.y - e), y1 = y.getPixelForValue(p.y + e);
        ctx.beginPath();
        ctx.moveTo(px, y0); ctx.lineTo(px, y1);
        ctx.moveTo(px - 2, y0); ctx.lineTo(px + 2, y0);
        ctx.moveTo(px - 2, y1); ctx.lineTo(px + 2, y1);
        ctx.stroke();
      });
    });
    ctx.restore();
  }
};
function doseChart(o) {
  const yW = 40;
  const cv = document.createElement("canvas");
  cv.width = o.right - o.axisX + yW + 10; cv.height = 125;
  cv.style.left = (o.axisX - yW) + "px"; cv.style.top = "925px";
  page.appendChild(cv);
  const pts = (arr) => conc.map((c, i) => ({ x: c, y: arr[i] }));
  const fit = (arr) => fitConc.map((c, i) => ({ x: c, y: arr[i] }));
  new Chart(cv, {
    type: "scatter",
    data: {
      datasets: [
        { label: "S309", data: pts(o.s309), errs: o.s309Err, errColor: "#111", pointStyle: "circle", pointRadius: 2.6,
          pointBackgroundColor: "#fff", pointBorderColor: "#111", pointBorderWidth: 1 },
        { label: "S309-v13", data: pts(o.v13), errs: o.v13Err, errColor: teal, pointStyle: "rect", pointRadius: 2.5,
          pointBackgroundColor: teal, pointBorderColor: teal, pointBorderWidth: 0.5 },
        { data: fit(o.s309Fit), showLine: true, pointRadius: 0, borderColor: "#111", borderWidth: 1, borderDash: [3, 2], cubicInterpolationMode: "monotone" },
        { data: fit(o.v13Fit), showLine: true, pointRadius: 0, borderColor: teal, borderWidth: 1.1, cubicInterpolationMode: "monotone" }
      ]
    },
    options: {
      responsive: false,
      animation: false,
      clip: false,
      layout: { padding: { top: 10, right: 10, left: 0, bottom: 0 } },
      plugins: { legend: { display: false }, tooltip: { enabled: false } },
      scales: {
        x: {
          type: "logarithmic", min: 1e-4, max: 1e2,
          border: { color: "#111", width: 1 },
          grid: { drawOnChartArea: false, tickLength: 3, color: "#111" },
          ticks: { autoSkip: false, maxRotation: 0, padding: 1, color: "#222", font: { size: 6.5, family: FONT }, callback: (v, i) => doseTickLabels[i] },
          afterBuildTicks(s) { s.ticks = doseTicks.map(v => ({ value: v })); },
          afterFit(s) { s.height = 25; }
        },
        y: {
          min: 0, max: 150,
          border: { color: "#111", width: 1 },
          grid: { drawOnChartArea: false, tickLength: 3, color: "#111" },
          ticks: { stepSize: 50, padding: 2, color: "#222", font: { size: 6.5, family: FONT } },
          afterFit(s) { s.width = yW; }
        }
      }
    },
    plugins: [errPlugin]
  });
  txt(o.title, o.titleX, 919, 9, { bold: true, align: "center" });
  if (o.sub) txt(o.sub, o.titleX - 10, 929.5, 7.5, { align: "center", color: "#222" });
  txt("Concentration (\u00B5g/mL)", (o.axisX + o.right) / 2, 1045, 7, { align: "center", color: "#222" });
}
doseChart({ axisX: 57, right: 196, title: "XBB.1.5 pseudoviruses", sub: "(Immunogen strain)", titleX: 130,
  s309: xbb15S309, s309Err: xbb15S309Err, v13: xbb15V13, v13Err: xbb15V13Err, s309Fit: xbb15S309Fit, v13Fit: xbb15V13Fit });
doseChart({ axisX: 228, right: 370, title: "XBB.1 pseudoviruses", titleX: 303,
  s309: xbb1S309, s309Err: xbb1S309Err, v13: xbb1V13, v13Err: xbb1V13Err, s309Fit: xbb1S309Fit, v13Fit: xbb1V13Fit });
doseChart({ axisX: 415, right: 556, title: "XBB.1.16 pseudoviruses", titleX: 488,
  s309: xbb116S309, s309Err: xbb116S309Err, v13: xbb116V13, v13Err: xbb116V13Err, s309Fit: xbb116S309Fit, v13Fit: xbb116V13Fit });
doseChart({ axisX: 605, right: 748, title: "SARS-CoV-1 pseudoviruses", titleX: 677,
  s309: sarsS309, s309Err: sarsS309Err, v13: sarsV13, v13Err: sarsV13Err, s309Fit: sarsS309Fit, v13Fit: sarsV13Fit });
txt("Infection %", 26, 980, 7, { rotate: true, color: "#222" });

// legend of panel c
txt('<span class="sw" style="position:relative;width:16px;height:0;border-top:1px dashed #111;"><span style="position:absolute;left:5px;top:-3.5px;width:4px;height:4px;border:1px solid #111;border-radius:50%;background:#fff"></span></span>S309', 732, 937, 7.5);
txt('<span class="sw" style="position:relative;width:16px;height:0;border-top:1.2px solid ' + teal + ';"><span style="position:absolute;left:5px;top:-3px;width:5px;height:5px;background:' + teal + '"></span></span>S309-v13', 732, 949, 7.5);
</script>
</body>
</html>
